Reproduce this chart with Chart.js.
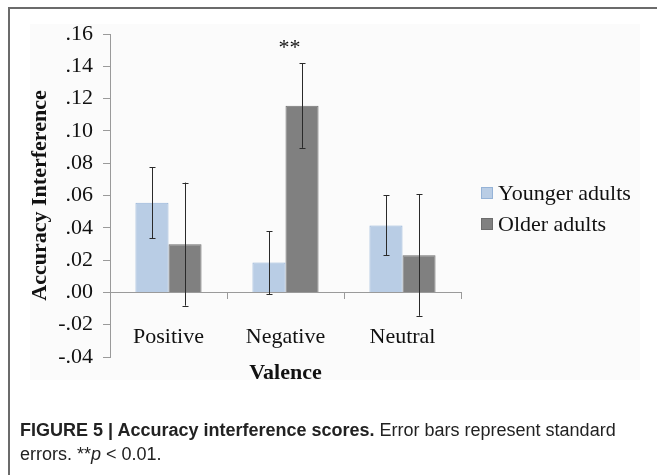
<!DOCTYPE html>
<html>
<head>
<meta charset="utf-8">
<script src="https://cdn.jsdelivr.net/npm/chart.js@4.4.1/dist/chart.umd.min.js"></script>
<style>
	html, body { margin: 0; padding: 0; background: #fff; }
	#page { position: relative; width: 657px; height: 475px; overflow: hidden; }
	#frame { position: absolute; left: 8px; top: 7px; right: 0; bottom: 0; border-left: 2px solid #6b6b6b; border-top: 2px solid #6b6b6b; }
	#plotBg { position: absolute; left: 30px; top: 24px; width: 610px; height: 356px; background: #fbfbfb; }
	#chart { position: absolute; left: 0; top: 0; }
	.legend { position: absolute; left: 481px; font: 22px "Liberation Serif", "Times New Roman", serif; color: #111; }
	.legend span { display: inline-block; width: 10px; height: 10px; margin-right: 5px; vertical-align: 1px; }
	#caption { position: absolute; left: 20px; top: 418px; width: 615px; font: 18px "Liberation Sans", Arial, sans-serif; line-height: 24px; color: #222; }
</style>
</head>
<body>
<div id="page">
	<div id="frame"></div>
	<div id="plotBg"></div>
	<canvas id="chart" width="657" height="475"></canvas>
	<div class="legend" style="top:180px"><span style="background:#b9cde5;border:1px solid #95b3d7"></span>Younger adults</div>
	<div class="legend" style="top:211px"><span style="background:#808080;border:1px solid #6c6c6c"></span>Older adults</div>
	<div id="caption"><b>FIGURE 5 | Accuracy interference scores.</b> Error bars represent standard errors. **<i>p</i> &lt; 0.01.</div>
</div>
<script>
	'use strict';

	// Data.
	var categories = [ 'Positive', 'Negative', 'Neutral' ];
	var youngerMeans = [ 0.0555, 0.0185, 0.0415 ];
	var youngerLow = [ 0.0335, -0.001, 0.023 ];
	var youngerHigh = [ 0.0775, 0.0378, 0.0602 ];
	var olderMeans = [ 0.0298, 0.1155, 0.023 ];
	var olderLow = [ -0.0082, 0.0895, -0.0145 ];
	var olderHigh = [ 0.068, 0.142, 0.0608 ];
	var sigMarks = [ '', '**', '' ];
	var yTicks = [ -0.04, -0.02, 0, 0.02, 0.04, 0.06, 0.08, 0.10, 0.12, 0.14, 0.16 ];

	var serif = '"Liberation Serif", "Times New Roman", serif';

	/**
	 * Format a tick like ".06" or "-.04".
	 */
	function formatTick( v ) {
		var s = Math.abs( v ).toFixed( 2 ).replace( /^0/, '' );
		return ( v < -1e-9 ? '-' : '' ) + s;
	}

	/**
	 * Draw error bars from the low/high arrays on top of each bar.
	 */
	var errorBars = {
		id: 'errorBars',
		afterDatasetsDraw: function( chart ) {
			var ctx = chart.ctx;
			var yScale = chart.scales.y;
			chart.data.datasets.forEach( function( ds, i ) {
				var meta = chart.getDatasetMeta( i );
				meta.data.forEach( function( bar, j ) {
					var top = yScale.getPixelForValue( ds.errHigh[ j ] );
					var bottom = yScale.getPixelForValue( ds.errLow[ j ] );
					var x = Math.round( bar.x ) + 0.5;
					ctx.save();
					ctx.strokeStyle = '#2a2a2a';
					ctx.lineWidth = 1;
					ctx.beginPath();
					ctx.moveTo( x, top );
					ctx.lineTo( x, bottom );
					ctx.moveTo( x - 3, Math.round( top ) + 0.5 );
					ctx.lineTo( x + 3, Math.round( top ) + 0.5 );
					ctx.moveTo( x - 3, Math.round( bottom ) + 0.5 );
					ctx.lineTo( x + 3, Math.round( bottom ) + 0.5 );
					ctx.stroke();
					ctx.restore();
				} );
			} );
		}
	};

	/**
	 * Significance stars above the highest error bar of a category.
	 */
	var sigStars = {
		id: 'sigStars',
		afterDatasetsDraw: function( chart ) {
			var ctx = chart.ctx;
			var xScale = chart.scales.x;
			var yScale = chart.scales.y;
			sigMarks.forEach( function( mark, j ) {
				if ( ! mark ) {
					return;
				}
				var hi = Math.max( youngerHigh[ j ], olderHigh[ j ] );
				ctx.save();
				ctx.font = '22px ' + serif;
				ctx.fillStyle = '#111';
				ctx.textAlign = 'center';
				ctx.textBaseline = 'middle';
				ctx.fillText( mark, xScale.getPixelForValue( j ) + 4, yScale.getPixelForValue( hi ) - 15 );
				ctx.restore();
			} );
		}
	};

	new Chart( document.getElementById( 'chart' ), {
		type: 'bar',
		data: {
			labels: categories,
			datasets: [ {
				label: 'Younger adults',
				data: youngerMeans,
				errLow: youngerLow,
				errHigh: youngerHigh,
				backgroundColor: '#b9cde5',
				borderColor: '#95b3d7',
				borderWidth: 1
			}, {
				label: 'Older adults',
				data: olderMeans,
				errLow: olderLow,
				errHigh: olderHigh,
				backgroundColor: '#808080',
				borderColor: '#707070',
				borderWidth: 1
			} ]
		},
		options: {
			responsive: false,
			animation: false,
			devicePixelRatio: 1,
			categoryPercentage: 0.565,
			barPercentage: 1,
			layout: {
				padding: { left: 20, top: 34, right: 196, bottom: 118 }
			},
			plugins: {
				legend: { display: false },
				tooltip: { enabled: false }
			},
			scales: {
				x: {
					position: { y: 0 },
					afterFit: function( scale ) {
						scale.height = 100;
					},
					grid: {
						drawOnChartArea: false,
						drawTicks: true,
						tickLength: 6,
						color: '#9a9a9a'
					},
					border: { color: '#9a9a9a' },
					ticks: {
						padding: 26,
						color: '#111',
						font: { family: serif, size: 22 }
					},
					title: {
						display: true,
						text: 'Valence',
						color: '#111',
						padding: { top: 0, bottom: 6 },
						font: { family: serif, size: 22, weight: 'bold' }
					}
				},
				y: {
					min: -0.04,
					max: 0.16,
					afterFit: function( scale ) {
						scale.width = 90;
					},
					afterBuildTicks: function( scale ) {
						scale.ticks = yTicks.map( function( v ) {
							return { value: v };
						} );
					},
					grid: {
						drawOnChartArea: false,
						drawTicks: true,
						tickLength: 7,
						color: '#9a9a9a'
					},
					border: { color: '#9a9a9a' },
					ticks: {
						padding: 10,
						color: '#111',
						font: { family: serif, size: 22 },
						callback: function( v ) {
							return formatTick( v );
						}
					},
					title: {
						display: true,
						text: 'Accuracy Interference',
						color: '#111',
						padding: { top: 7, bottom: 0 },
						font: { family: serif, size: 22, weight: 'bold' }
					}
				}
			}
		},
		plugins: [ errorBars, sigStars ]
	} );
</script>
</body>
</html>
